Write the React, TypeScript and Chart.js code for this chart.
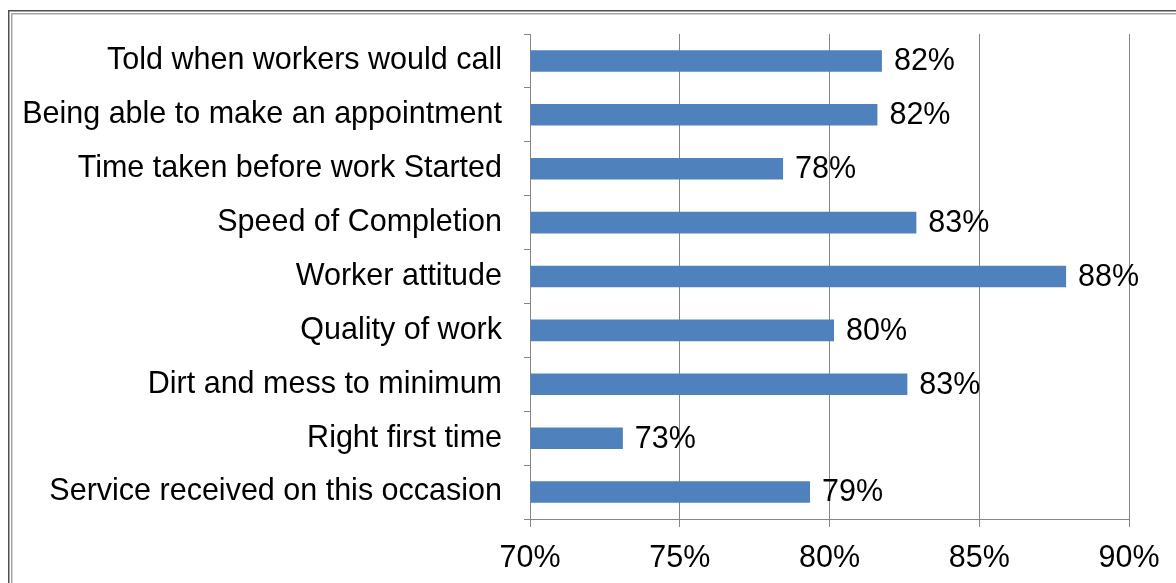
import React, { useEffect, useRef } from "react";
import { Chart, registerables } from "chart.js";

Chart.register(...registerables);

const categories: string[] = [
  "Told when workers would call",
  "Being able to make an appointment",
  "Time taken before work Started",
  "Speed of Completion",
  "Worker attitude",
  "Quality of work",
  "Dirt and mess to minimum",
  "Right first time",
  "Service received on this occasion",
];

const satisfaction: number[] = [81.75, 81.6, 78.45, 82.9, 87.9, 80.15, 82.6, 73.1, 79.35];

const xTickValues: number[] = [70, 75, 80, 85, 90];

const FONT = "'Liberation Sans', Arial, 'Noto Sans', sans-serif";
const FONT_SIZE = 30.5;

const framePlugin = {
  id: "frame",
  beforeDraw(chart: any) {
    const ctx = chart.ctx;
    const w = chart.width;
    const h = chart.height;
    ctx.save();
    ctx.fillStyle = "#ffffff";
    ctx.fillRect(0, 0, w, h);
    ctx.lineWidth = 1.5;
    ctx.strokeStyle = "#505050";
    ctx.beginPath();
    ctx.moveTo(8.75, h + 5);
    ctx.lineTo(8.75, 10.75);
    ctx.lineTo(w + 5, 10.75);
    ctx.stroke();
    ctx.strokeStyle = "#a6a6a6";
    ctx.beginPath();
    ctx.moveTo(11.75, h + 5);
    ctx.lineTo(11.75, 13.75);
    ctx.lineTo(w + 5, 13.75);
    ctx.stroke();
    ctx.restore();
  },
};

const valueLabelPlugin = {
  id: "valueLabels",
  afterDatasetsDraw(chart: any) {
    const ctx = chart.ctx;
    const meta = chart.getDatasetMeta(0);
    const data = chart.data.datasets[0].data as number[];
    ctx.save();
    ctx.font = `${FONT_SIZE}px ${FONT}`;
    ctx.fillStyle = "#000000";
    ctx.textAlign = "left";
    ctx.textBaseline = "middle";
    meta.data.forEach((bar: any, i: number) => {
      ctx.fillText(`${Math.round(data[i])}%`, bar.x + 12, bar.y + 1);
    });
    ctx.restore();
  },
};

export default function App() {
  const canvasRef = useRef<HTMLCanvasElement | null>(null);

  useEffect(() => {
    if (!canvasRef.current) return;
    const chart = new Chart(canvasRef.current, {
      type: "bar",
      data: {
        labels: categories,
        datasets: [
          {
            data: satisfaction,
            backgroundColor: "#4F81BD",
            borderWidth: 0,
            categoryPercentage: 1,
            barPercentage: 0.4,
            base: 70,
          },
        ],
      },
      options: {
        indexAxis: "y",
        responsive: false,
        animation: false,
        layout: { padding: { top: 34, right: 47, left: 0, bottom: 0 } },
        plugins: {
          legend: { display: false },
          tooltip: { enabled: false },
        },
        scales: {
          x: {
            min: 70,
            max: 90,
            afterBuildTicks(scale: any) {
              scale.ticks = xTickValues.map((v) => ({ value: v }));
            },
            afterFit(scale: any) {
              scale.height = 64;
            },
            ticks: {
              color: "#000000",
              font: { family: FONT, size: FONT_SIZE },
              padding: 13,
              callback: (v: any) => `${v}%`,
            },
            grid: {
              color: "#868686",
              lineWidth: 1,
              tickLength: 8,
              drawTicks: true,
            },
            border: { color: "#868686", width: 1 },
          },
          y: {
            afterFit(scale: any) {
              scale.width = 530;
              scale.paddingTop = 0;
              scale.paddingBottom = 0;
            },
            ticks: {
              color: "#000000",
              font: { family: FONT, size: FONT_SIZE },
              padding: 22,
            },
            grid: {
              offset: true,
              drawOnChartArea: false,
              drawTicks: true,
              tickLength: 6,
              color: "#868686",
            },
            border: { color: "#868686", width: 1 },
          },
        },
      },
      plugins: [framePlugin, valueLabelPlugin],
    });
    return () => chart.destroy();
  }, []);

  return (
    <div style={{ position: "fixed", left: 0, top: 0, width: 1176, height: 583, background: "#fff" }}>
      <canvas ref={canvasRef} width={1176} height={583} style={{ display: "block" }} />
    </div>
  );
}
